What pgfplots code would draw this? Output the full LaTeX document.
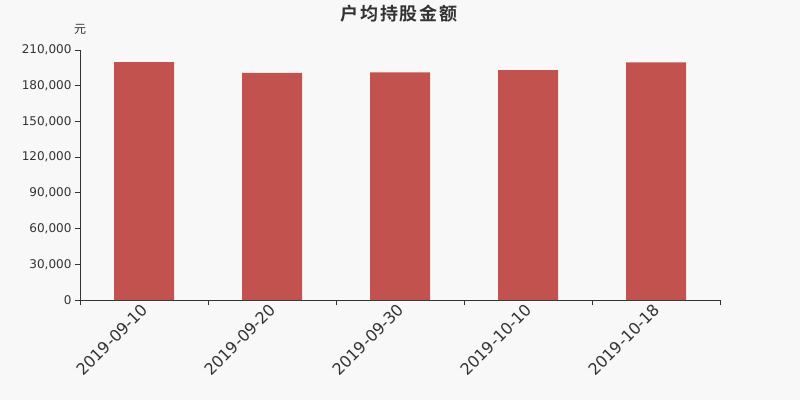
\documentclass[border=0pt]{standalone}
\usepackage{fontspec}
\usepackage{pgfplots}
\pgfplotsset{compat=1.18}
\setmainfont{DejaVu Sans}
\newfontfamily\cjk{Noto Sans CJK SC}
\newfontfamily\cjkb{Noto Sans CJK SC Bold}
\definecolor{bg}{HTML}{F8F8F8}
\definecolor{bar}{HTML}{C2524E}
\definecolor{ax}{HTML}{333333}
\begin{document}
\begin{tikzpicture}[x=1pt,y=1pt]
\fill[bg] (0,0) rectangle (800,400);
\node[font=\cjkb\fontsize{18}{18}\selectfont, text=ax] at (399,386) {户\hspace{2pt}均\hspace{2pt}持\hspace{2pt}股\hspace{2pt}金\hspace{2pt}额};
\node[font=\cjk\fontsize{12}{12}\selectfont, text=ax] at (80,371) {元};
\begin{axis}[
  at={(80pt,100pt)}, anchor=south west,
  scale only axis, width=640pt, height=250pt,
  xmin=-0.5, xmax=4.5, ymin=0, ymax=210000,
  axis x line*=bottom, axis y line*=left,
  axis line style={ax, line width=0.8pt},
  ytick={0,30000,...,210000},
  yticklabel style={font=\fontsize{12}{12}\selectfont, text=ax},
  /pgf/number format/assume math mode=true,
  /pgf/number format/.cd, 1000 sep={,}, fixed, /pgfplots/.cd,
  scaled y ticks=false,
  xtick={0,1,2,3,4},
  xticklabels={2019-09-10,2019-09-20,2019-09-30,2019-10-10,2019-10-18},
  minor xtick={-0.5,0.5,1.5,2.5,3.5,4.5},
  xticklabel style={font=\fontsize{16}{16}\selectfont, text=ax, rotate=45, anchor=east, xshift=3pt, yshift=-2pt},
  major x tick style={draw=none},
  minor x tick style={ax, line width=0.8pt},
  y tick style={ax, line width=0.8pt},
  tick align=outside,
  major tick length=5pt, minor tick length=5pt,
  ybar, bar width=60pt, bar shift=0pt,
  clip=false,
]
\addplot[fill=bar, draw=none] coordinates {(0,199900) (1,190700) (2,191200) (3,193200) (4,199600)};
\end{axis}
\end{tikzpicture}
\end{document}
